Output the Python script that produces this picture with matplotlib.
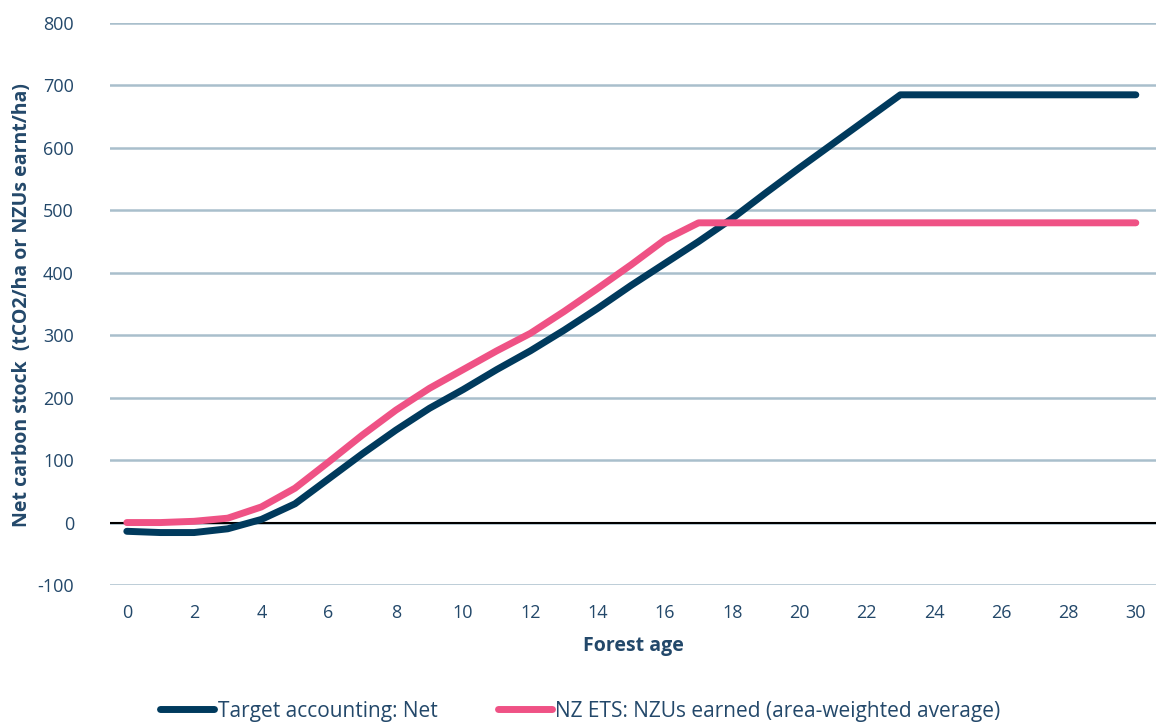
import matplotlib
matplotlib.use("Agg")
import matplotlib.pyplot as plt

# Forest age (years)
age = list(range(0, 31))

# Target accounting: net carbon stock (tCO2/ha)
target_net = [-14, -16, -16, -10, 5, 30, 70, 110, 148, 183, 213, 245, 275,
              308, 343, 380, 415, 450, 487, 528, 568, 607, 646, 685,
              685, 685, 685, 685, 685, 685, 685]

# NZ ETS: NZUs earned, area-weighted average (NZUs/ha)
nzus_earned = [0, 0, 2, 7, 25, 55, 97, 140, 180, 215, 245, 275, 303,
               338, 375, 413, 453, 480, 480, 480, 480, 480, 480, 480,
               480, 480, 480, 480, 480, 480, 480]

series_labels = ["Target accounting: Net",
                 "NZ ETS: NZUs earned (area-weighted average)"]
x_ticks = list(range(0, 31, 2))
y_ticks = list(range(-100, 801, 100))

NAVY = "#003a5d"
PINK = "#ef5285"
GRID = "#a9bfcc"
TEXT = "#23486a"

plt.rcParams["font.family"] = ["Open Sans", "DejaVu Sans"]
plt.rcParams["axes.unicode_minus"] = False

fig = plt.figure(figsize=(11.56, 7.24), dpi=100)
ax = fig.add_axes([110 / 1156, 1 - 585 / 724, 1046 / 1156, 562 / 724])

ax.plot(age, target_net, color=NAVY, lw=5, solid_capstyle="round",
        solid_joinstyle="round", label=series_labels[0], zorder=3)
ax.plot(age, nzus_earned, color=PINK, lw=5, solid_capstyle="round",
        solid_joinstyle="round", label=series_labels[1], zorder=3)

ax.axhline(0, color="black", lw=1.5, zorder=2)

ax.set_ylim(-100, 800)
ax.set_xlim(-0.5, 30.6)
ax.set_yticks(y_ticks)
ax.set_xticks(x_ticks)
ax.grid(axis="y", color=GRID, lw=1.8, zorder=1)
ax.set_axisbelow(True)
for s in ax.spines.values():
    s.set_visible(False)
ax.tick_params(length=0, labelsize=13, labelcolor=TEXT)
ax.tick_params(axis="y", pad=26)
ax.tick_params(axis="x", pad=14)

ax.set_xlabel("Forest age", fontsize=14, fontweight="bold", color=TEXT,
              labelpad=10)
fig.text(22 / 1156, 1 - 305 / 724,
         "Net carbon stock  (tCO2/ha or NZUs earnt/ha)",
         rotation=90, ha="center", va="center", fontsize=14,
         fontweight="bold", color=TEXT)

leg = fig.legend(loc="center", bbox_to_anchor=(0.502, 1 - 711 / 724), ncol=2,
                 frameon=False, handlelength=2.6, handletextpad=0.15,
                 columnspacing=2.9,
                 prop={"family": ["Liberation Sans Narrow", "Open Sans"],
                       "size": 15})
for t in leg.get_texts():
    t.set_color(TEXT)

fig.savefig("out.png", dpi=100, facecolor="white")
